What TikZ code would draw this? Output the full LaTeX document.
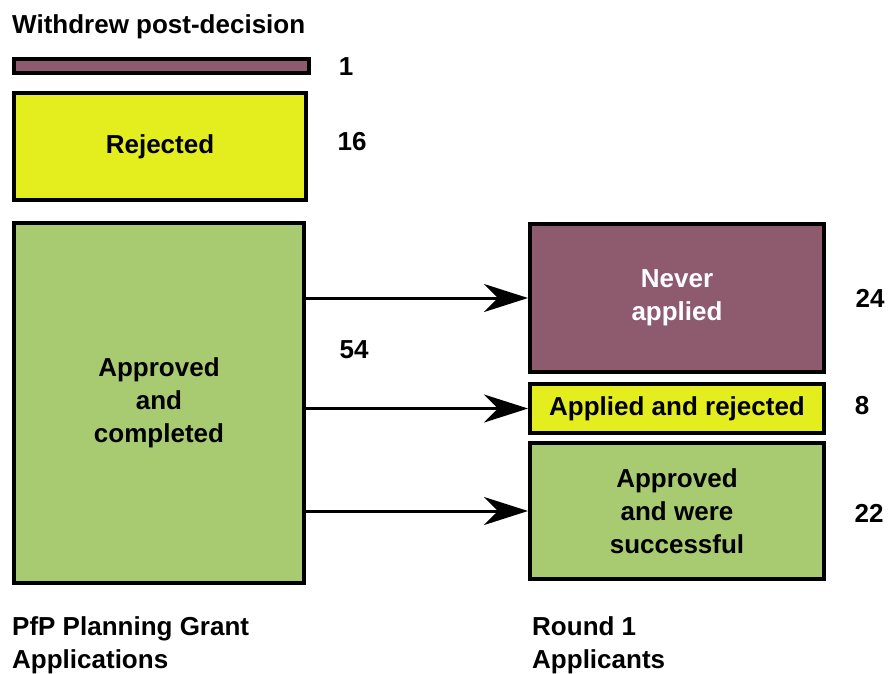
\documentclass[tikz,border=0pt]{standalone}
\usepackage{fontspec}
\setmainfont{Liberation Sans}
\usetikzlibrary{arrows.meta}

\definecolor{plum}{HTML}{8E5B6E}
\definecolor{lemon}{HTML}{E4EE1E}
\definecolor{sage}{HTML}{A8CB72}

\tikzset{
    box/.style={draw=black, line width=4pt, inner sep=0pt, align=center,
        font=\bfseries\fontsize{26}{33}\selectfont},
    count/.style={inner sep=0pt, font=\bfseries\fontsize{26}{33}\selectfont},
    caption/.style={anchor=north west, inner sep=0pt, align=left,
        font=\bfseries\fontsize{26}{33}\selectfont},
    flow/.style={line width=3pt, -{Stealth[length=44pt,width=28pt,inset=14pt]}}
}

\begin{document}
\begin{tikzpicture}[x=1pt, y=-1pt]
    \useasboundingbox (0,0) rectangle (888,673);

    % left column
    \node[anchor=base west, count] (withtitle) at (12,33) {Withdrew post-decision};
    \node[box, fill=plum, minimum width=295pt, minimum height=14pt] (withdrew) at (161.5,66) {};
    \node[box, fill=lemon, minimum width=292pt, minimum height=107pt] (rejected) at (160,146.5) {\raisebox{-3pt}{Rejected}};
    \node[box, fill=sage, minimum width=290pt, minimum height=360pt] (apprv) at (159,403) {Approved\\and\\completed};

    % right column
    \node[box, fill=plum, text=white, minimum width=294pt, minimum height=148pt] (never) at (677,298) {Never\\applied};
    \node[box, fill=lemon, minimum width=294pt, minimum height=49pt] (apprej) at (677,408.5) {Applied and rejected};
    \node[box, fill=sage, minimum width=294pt, minimum height=136pt] (success) at (677,511) {Approved\\and were\\successful};

    % counts
    \foreach \x/\y/\n in {346/67/1, 352/142/16, 354/350/54, 870/298/24, 862/406/8, 869/513/22} {
        \node[count] (n\n) at (\x,\y) {\n};
    }

    % flows
    \foreach \t in {never, apprej, success} {
        \draw[flow] (apprv.east |- \t.west) -- (\t.west);
    }

    % column captions
    \node[caption] (leftcap) at (12,616) {PfP Planning Grant\\Applications};
    \node[caption] (rightcap) at (532,616) {Round 1\\Applicants};
\end{tikzpicture}
\end{document}
